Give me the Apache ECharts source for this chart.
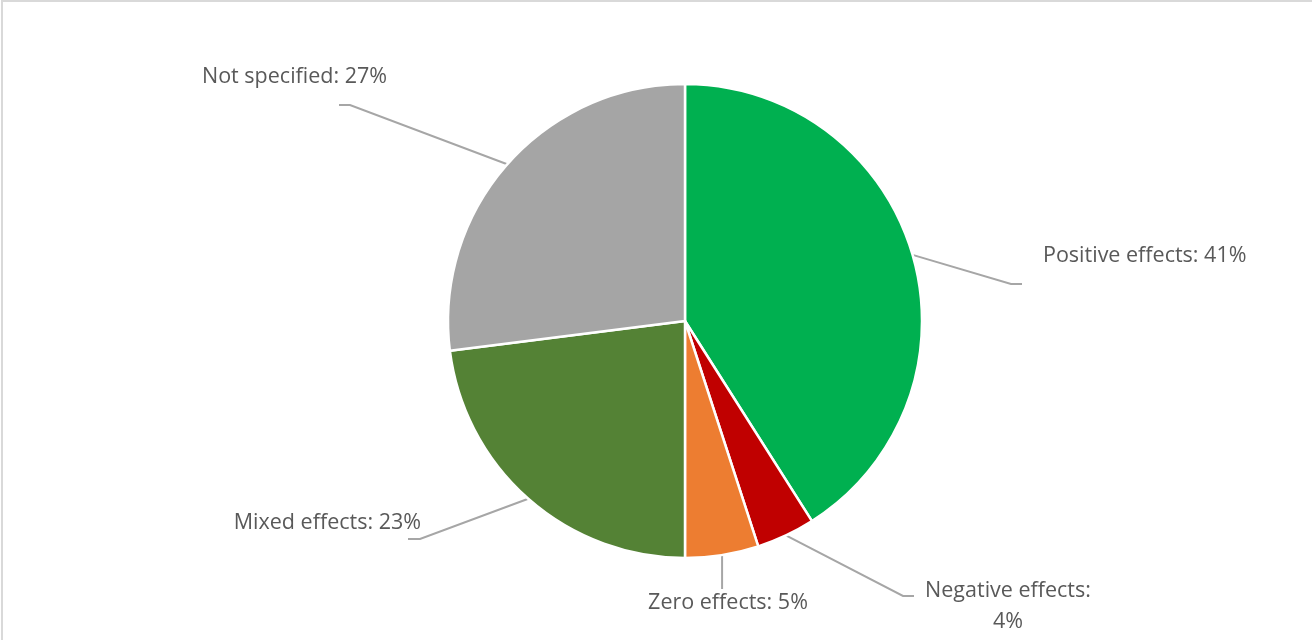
<!DOCTYPE html>
<html>
<head>
<meta charset="utf-8">
<script src="https://cdn.jsdelivr.net/npm/echarts@6/dist/echarts.min.js"></script>
<style>
html,body{margin:0;padding:0;background:#fff;overflow:hidden;}
#chart{position:absolute;left:0;top:0;width:1312px;height:640px;}
#frame{position:absolute;left:1px;top:0;width:1311px;height:640px;border-top:2px solid #d9d9d9;border-left:2px solid #d9d9d9;box-sizing:border-box;pointer-events:none;}
</style>
</head>
<body>
<div id="chart"></div>
<div id="frame"></div>
<script>
// ---- data ----
const categories = ['Positive effects', 'Negative effects', 'Zero effects', 'Mixed effects', 'Not specified'];
const shares = [41, 4, 5, 23, 27];

// ---- styles ----
const sliceColors = ['#00B050', '#C00000', '#ED7D31', '#548235', '#A5A5A5'];

// ---- label placement (layout only) ----
const labelPlacement = [
  { x: 1043, y: 256, align: 'left',   line: [[1011, 284], [1022, 284]] },
  { x: 1008, y: 606, align: 'center', line: [[903, 596], [914, 596]], wrap: true },
  { x: 728,  y: 603, align: 'center', line: [[null, 589]] },
  { x: 421,  y: 523, align: 'right',  line: [[420, 539], [408, 539]] },
  { x: 202,  y: 77,  align: 'left',   line: [[350, 105], [339, 105]] }
];

const chart = echarts.init(document.getElementById('chart'), null, { renderer: 'canvas' });

const seriesData = categories.map((name, i) => ({
  name: name,
  value: shares[i],
  itemStyle: { color: sliceColors[i] }
}));

chart.setOption({
  animation: false,
  backgroundColor: '#ffffff',
  series: [{
    type: 'pie',
    center: [685, 321],
    radius: 237,
    startAngle: 90,
    clockwise: true,
    avoidLabelOverlap: false,
    data: seriesData,
    itemStyle: { borderColor: '#ffffff', borderWidth: 2.5 },
    emphasis: { disabled: true },
    label: {
      show: true,
      color: '#595959',
      fontFamily: '"Open Sans", sans-serif',
      fontSize: 21.5,
      lineHeight: 31,
      formatter: function (p) {
        const sep = labelPlacement[p.dataIndex].wrap ? '\n' : ' ';
        return p.name + ':' + sep + p.value + '%';
      }
    },
    labelLine: {
      show: true,
      length: 20,
      length2: 10,
      smooth: false,
      lineStyle: { color: '#A6A6A6', width: 2 }
    },
    labelLayout: function (params) {
      const pl = labelPlacement[params.dataIndex];
      const start = params.labelLinePoints ? params.labelLinePoints[0] : null;
      const out = { x: pl.x, y: pl.y, align: pl.align, verticalAlign: 'middle' };
      if (start) {
        const pts = [[start[0], start[1]]];
        pl.line.forEach(p => pts.push([p[0] == null ? start[0] : p[0], p[1]]));
        out.labelLinePoints = pts;
      }
      return out;
    }
  }]
});
</script>
</body>
</html>
